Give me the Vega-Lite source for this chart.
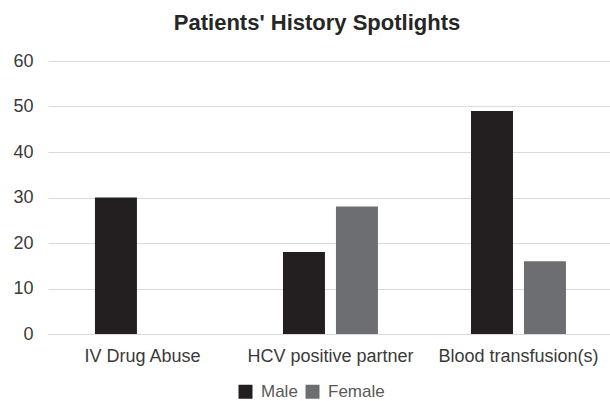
{
  "$schema": "https://vega.github.io/schema/vega-lite/v6.json",
  "width": 562,
  "height": 273,
  "autosize": {"type": "none"},
  "padding": {"left": 48, "top": 61, "right": 0, "bottom": 67},
  "background": "white",
  "title": {
    "text": "Patients' History Spotlights",
    "font": "Liberation Sans",
    "fontSize": 22,
    "fontWeight": "bold",
    "color": "#262626",
    "anchor": "middle",
    "offset": 17,
    "dx": -12
  },
  "data": {
    "values": [
      {"category": "IV Drug Abuse", "sex": "Male", "value": 30},
      {"category": "IV Drug Abuse", "sex": "Female", "value": 0},
      {"category": "HCV positive partner", "sex": "Male", "value": 18},
      {"category": "HCV positive partner", "sex": "Female", "value": 28},
      {"category": "Blood transfusion(s)", "sex": "Male", "value": 49},
      {"category": "Blood transfusion(s)", "sex": "Female", "value": 16}
    ]
  },
  "mark": {"type": "bar"},
  "encoding": {
    "x": {
      "field": "category",
      "type": "nominal",
      "sort": null,
      "scale": {"paddingInner": 0.495, "paddingOuter": 0.242, "align": 0.516},
      "axis": {
        "title": null,
        "labelAngle": 0,
        "labelFont": "Liberation Sans",
        "labelFontSize": 18,
        "labelColor": "#3a3a3a",
        "ticks": false,
        "domain": true,
        "domainColor": "#d9d9d9",
        "labelPadding": 13
      }
    },
    "xOffset": {
      "field": "sex",
      "type": "nominal",
      "sort": ["Male", "Female"],
      "scale": {"paddingInner": 0.2075, "paddingOuter": 0}
    },
    "y": {
      "field": "value",
      "type": "quantitative",
      "scale": {"domain": [0, 60]},
      "axis": {
        "title": null,
        "values": [0, 10, 20, 30, 40, 50, 60],
        "labelFont": "Liberation Sans",
        "labelFontSize": 18,
        "labelColor": "#3a3a3a",
        "ticks": false,
        "domain": false,
        "gridColor": "#d9d9d9",
        "labelPadding": 15
      }
    },
    "color": {
      "field": "sex",
      "type": "nominal",
      "sort": ["Male", "Female"],
      "scale": {"domain": ["Male", "Female"], "range": ["#231f20", "#6d6e71"]},
      "legend": {
        "title": null,
        "orient": "none",
        "legendX": 189,
        "legendY": 322,
        "direction": "horizontal",
        "padding": 0,
        "symbolType": "square",
        "symbolSize": 196,
        "symbolStrokeWidth": 0,
        "labelFont": "Liberation Sans",
        "labelFontSize": 17,
        "labelColor": "#595959",
        "columnPadding": 6,
        "labelOffset": 7
      }
    }
  },
  "config": {"view": {"stroke": null}}
}
